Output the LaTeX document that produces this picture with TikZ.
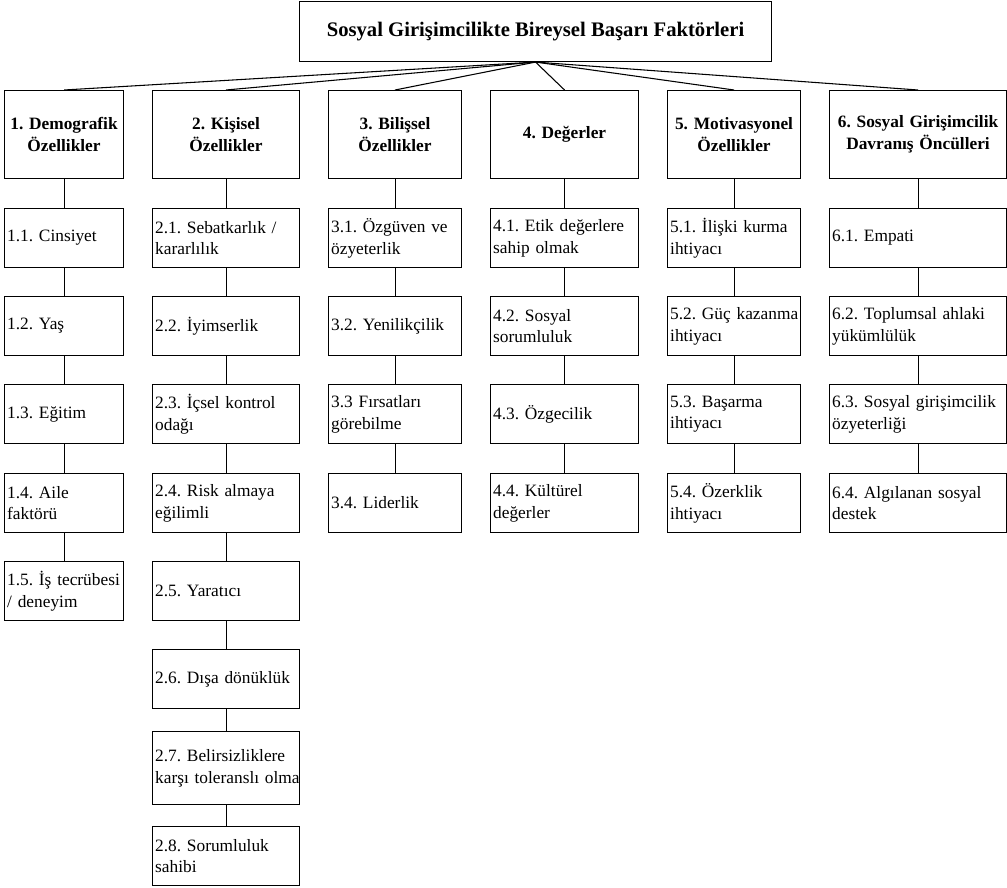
\documentclass[tikz,border=0pt]{standalone}
\usepackage{fontspec}
\setmainfont{Liberation Serif}
\usepackage{tikz}
\frenchspacing
\hfuzz=20pt
\tikzset{
  kutu/.style={draw, line width=0.8pt, anchor=north west, inner xsep=2pt, inner ysep=0pt,
    font=\fontsize{13}{16.3}\selectfont},
  baslik/.style={kutu, align=center, minimum height=66pt, text width=#1, font=\fontsize{13}{16.3}\selectfont\bfseries},
  madde/.style={kutu, align=left, minimum height=44.25pt, text width=#1},
  bag/.style={line width=0.8pt}
}

\begin{document}
\begin{tikzpicture}[x=0.75pt,y=-0.75pt]
\useasboundingbox (0,0) rectangle (1007,888);
\node[kutu, minimum width=354pt, minimum height=45pt, font=\fontsize{15.5}{18}\selectfont\bfseries] (top) at (299,1) {Sosyal Girişimcilikte Bireysel Başarı Faktörleri};

\node[baslik=85.25pt] (c1) at (4,90) {1. Demografik\\Özellikler};
\node[baslik=106.25pt] (c2) at (152,90) {2. Kişisel\\Özellikler};
\node[baslik=95.75pt] (c3) at (328,90) {3. Bilişsel\\Özellikler};
\node[baslik=107pt] (c4) at (490,90) {4. Değerler};
\node[baslik=95.75pt] (c5) at (667,90) {5. Motivasyonel\\Özellikler};
\node[baslik=128.75pt] (c6) at (829,90) {6. Sosyal Girişimcilik\\Davranış Öncülleri};

\node[madde=85.25pt] (c11) at (4,208) {1.1. Cinsiyet};
\node[madde=85.25pt] (c12) at (4,296) {1.2. Yaş};
\node[madde=85.25pt] (c13) at (4,384) {1.3. Eğitim};
\node[madde=85.25pt] (c14) at (4,473) {1.4. Aile\\faktörü};
\node[madde=85.25pt] (c15) at (4,561) {\mbox{1.5. İş tecrübesi}\\/ deneyim};

\node[madde=106.25pt] (c21) at (152,208) {2.1. Sebatkarlık /\\kararlılık};
\node[madde=106.25pt] (c22) at (152,296) {2.2. İyimserlik};
\node[madde=106.25pt] (c23) at (152,384) {2.3. İçsel kontrol\\odağı};
\node[madde=106.25pt] (c24) at (152,473) {2.4. Risk almaya\\eğilimli};
\node[madde=106.25pt] (c25) at (152,561) {2.5. Yaratıcı};
\node[madde=106.25pt] (c26) at (152,649) {2.6. Dışa dönüklük};
\node[madde=106.25pt, minimum height=54.75pt] (c27) at (152,731) {2.7. Belirsizliklere\\\mbox{karşı toleranslı olma}};
\node[madde=106.25pt] (c28) at (152,826) {2.8. Sorumluluk\\sahibi};

\node[madde=95.75pt] (c31) at (328,208) {3.1. Özgüven ve\\özyeterlik};
\node[madde=95.75pt] (c32) at (328,296) {3.2. Yenilikçilik};
\node[madde=95.75pt] (c33) at (328,384) {3.3 Fırsatları\\görebilme};
\node[madde=95.75pt] (c34) at (328,473) {3.4. Liderlik};

\node[madde=107pt] (c41) at (490,208) {4.1. Etik değerlere\\sahip olmak};
\node[madde=107pt] (c42) at (490,296) {4.2. Sosyal\\sorumluluk};
\node[madde=107pt] (c43) at (490,384) {4.3. Özgecilik};
\node[madde=107pt] (c44) at (490,473) {4.4. Kültürel\\değerler};

\node[madde=95.75pt] (c51) at (667,208) {5.1. İlişki kurma\\ihtiyacı};
\node[madde=95.75pt] (c52) at (667,296) {\mbox{5.2. Güç kazanma}\\ihtiyacı};
\node[madde=95.75pt] (c53) at (667,384) {5.3. Başarma\\ihtiyacı};
\node[madde=95.75pt] (c54) at (667,473) {5.4. Özerklik\\ihtiyacı};

\node[madde=128.75pt] (c61) at (829,208) {6.1. Empati};
\node[madde=128.75pt] (c62) at (829,296) {6.2. Toplumsal ahlaki\\yükümlülük};
\node[madde=128.75pt] (c63) at (829,384) {\mbox{6.3. Sosyal girişimcilik}\\özyeterliği};
\node[madde=128.75pt] (c64) at (829,473) {6.4. Algılanan sosyal\\destek};

\draw[bag] (top.south) -- (c1.north);
\draw[bag] (top.south) -- (c2.north);
\draw[bag] (top.south) -- (c3.north);
\draw[bag] (top.south) -- (c4.north);
\draw[bag] (top.south) -- (c5.north);
\draw[bag] (top.south) -- (c6.north);

\draw[bag] (c1.south) -- (c11.north);
\draw[bag] (c11.south) -- (c12.north);
\draw[bag] (c12.south) -- (c13.north);
\draw[bag] (c13.south) -- (c14.north);
\draw[bag] (c14.south) -- (c15.north);

\draw[bag] (c2.south) -- (c21.north);
\draw[bag] (c21.south) -- (c22.north);
\draw[bag] (c22.south) -- (c23.north);
\draw[bag] (c23.south) -- (c24.north);
\draw[bag] (c24.south) -- (c25.north);
\draw[bag] (c25.south) -- (c26.north);
\draw[bag] (c26.south) -- (c27.north);
\draw[bag] (c27.south) -- (c28.north);

\draw[bag] (c3.south) -- (c31.north);
\draw[bag] (c31.south) -- (c32.north);
\draw[bag] (c32.south) -- (c33.north);
\draw[bag] (c33.south) -- (c34.north);

\draw[bag] (c4.south) -- (c41.north);
\draw[bag] (c41.south) -- (c42.north);
\draw[bag] (c42.south) -- (c43.north);
\draw[bag] (c43.south) -- (c44.north);

\draw[bag] (c5.south) -- (c51.north);
\draw[bag] (c51.south) -- (c52.north);
\draw[bag] (c52.south) -- (c53.north);
\draw[bag] (c53.south) -- (c54.north);

\draw[bag] (c6.south) -- (c61.north);
\draw[bag] (c61.south) -- (c62.north);
\draw[bag] (c62.south) -- (c63.north);
\draw[bag] (c63.south) -- (c64.north);
\end{tikzpicture}
\end{document}
